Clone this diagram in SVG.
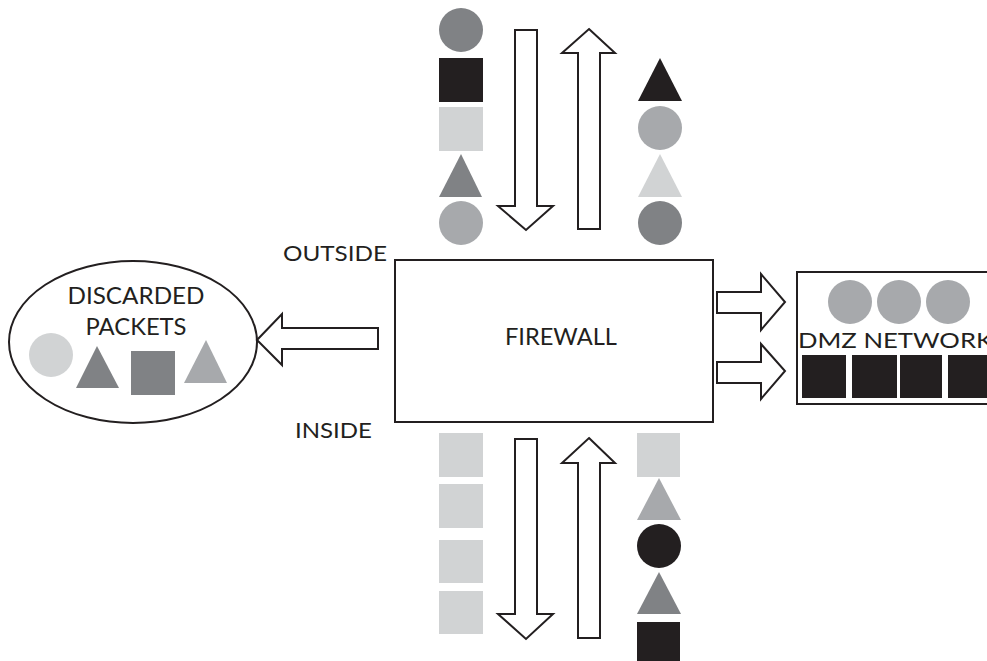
<svg xmlns="http://www.w3.org/2000/svg" width="987" height="661" viewBox="0 0 987 661">
<style>
.t{font-family:Lato,"Open Sans","Liberation Sans",sans-serif;fill:#231f20}
.box{fill:#fff;stroke:#231f20;stroke-width:2}
.arr{fill:#fff;stroke:#231f20;stroke-width:2;stroke-linejoin:miter}
.k{fill:#231f20}.d{fill:#808285}.m{fill:#a7a9ac}.l{fill:#d1d3d4}
</style>
<rect width="987" height="661" fill="#fff"/>
<g id="firewall">
<rect class="box" x="395" y="260" width="318" height="162"/>
<text class="t" x="561" y="345" font-size="23" text-anchor="middle" textLength="112" lengthAdjust="spacingAndGlyphs">FIREWALL</text>
</g>
<g id="outside-label"><text class="t" x="283" y="261" font-size="21" textLength="104" lengthAdjust="spacingAndGlyphs">OUTSIDE</text></g>
<g id="inside-label"><text class="t" x="295" y="438" font-size="22" textLength="77" lengthAdjust="spacingAndGlyphs">INSIDE</text></g>
<g id="discarded">
<ellipse cx="133" cy="342" rx="124" ry="81" fill="#fff" stroke="#231f20" stroke-width="2"/>
<text class="t" x="136" y="304" font-size="23" text-anchor="middle" textLength="137" lengthAdjust="spacingAndGlyphs">DISCARDED</text>
<text class="t" x="136" y="335" font-size="23" text-anchor="middle" textLength="101" lengthAdjust="spacingAndGlyphs">PACKETS</text>
<circle class="l" cx="51" cy="355" r="22"/>
<polygon class="d" points="97,346 119,388 76,388"/>
<rect class="d" x="131" y="351" width="44" height="44"/>
<polygon class="m" points="206,340 227,383 184,383"/>
</g>
<g id="dmz">
<rect class="box" x="797" y="272" width="200" height="132"/>
<circle class="m" cx="850" cy="302" r="22"/>
<circle class="m" cx="899" cy="302" r="22"/>
<circle class="m" cx="948" cy="302" r="22"/>
<text class="t" x="798" y="348" font-size="22" textLength="195" lengthAdjust="spacingAndGlyphs">DMZ NETWORK</text>
<rect class="k" x="802" y="355" width="44" height="43"/>
<rect class="k" x="852" y="355" width="45" height="43"/>
<rect class="k" x="900" y="355" width="42" height="43"/>
<rect class="k" x="948" y="355" width="44" height="43"/>
</g>
<g id="packets-top-left">
<circle class="d" cx="461" cy="30" r="22"/>
<rect class="k" x="439" y="58" width="44" height="44"/>
<rect class="l" x="439" y="107" width="44" height="44"/>
<polygon class="d" points="461,154 482,197 439,197"/>
<circle class="m" cx="461" cy="223" r="22"/>
</g>
<g id="packets-top-right">
<polygon class="k" points="660,58 682,101 638,101"/>
<circle class="m" cx="660" cy="128" r="22"/>
<polygon class="l" points="660,154 682,197 638,197"/>
<circle class="d" cx="660" cy="223" r="22"/>
</g>
<g id="packets-bottom-left">
<rect class="l" x="439" y="433" width="44" height="44"/>
<rect class="l" x="439" y="484" width="44" height="44"/>
<rect class="l" x="439" y="540" width="44" height="43"/>
<rect class="l" x="439" y="591" width="44" height="43"/>
</g>
<g id="packets-bottom-right">
<rect class="l" x="637" y="433" width="43" height="44"/>
<polygon class="m" points="659,478 681,520 637,520"/>
<circle class="k" cx="659" cy="546" r="22"/>
<polygon class="d" points="659,572 681,614 637,614"/>
<rect class="k" x="637" y="622" width="43" height="44"/>
</g>
<g id="connectors">
<polygon class="arr" points="515,30 537,30 537,206 553,206 526,230 498,206 515,206"/>
<polygon class="arr" points="589,29 615,53 600,53 600,229 578,229 578,53 562,53"/>
<polygon class="arr" points="515,439 537,439 537,614 553,614 526,639 498,614 515,614"/>
<polygon class="arr" points="589,438 615,463 600,463 600,638 578,638 578,463 562,463"/>
<polygon class="arr" points="257,340 282,314 282,328 378,328 378,349 282,349 282,365"/>
<polygon class="arr" points="717,292 761,292 761,274 785,302 761,330 761,313 717,313"/>
<polygon class="arr" points="717,362 761,362 761,344 785,371 761,399 761,383 717,383"/>
</g>
</svg>
